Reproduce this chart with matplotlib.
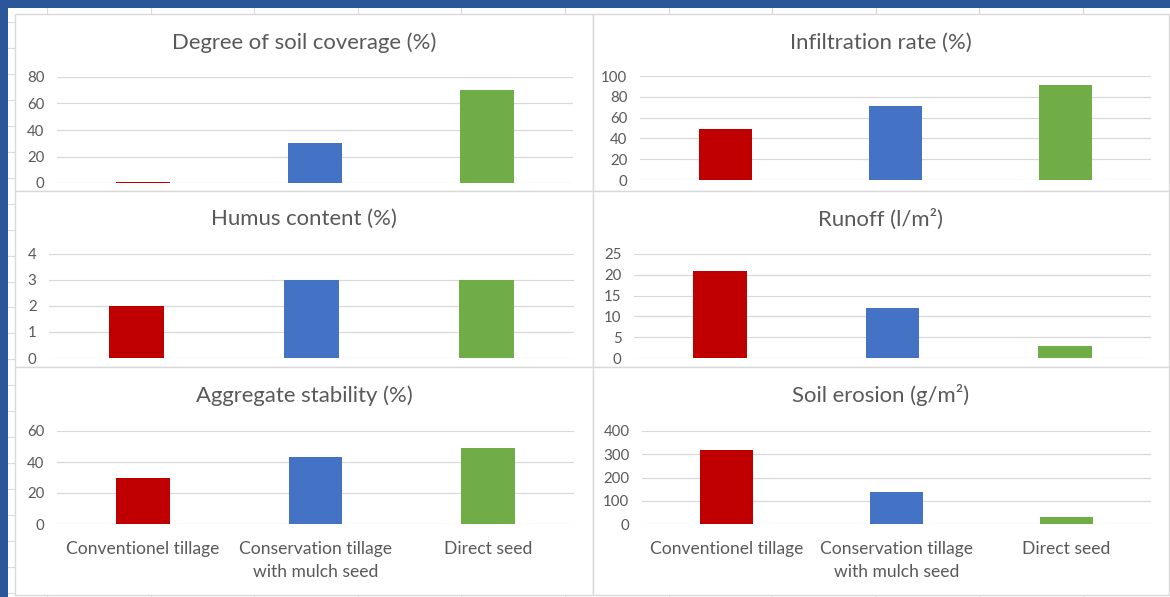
import numpy as np
import matplotlib
matplotlib.use("Agg")
import matplotlib.pyplot as plt
from matplotlib.patches import Rectangle

plt.rcParams["font.family"] = ["Lato", "DejaVu Sans"]

categories = ["Conventionel tillage", "Conservation tillage\nwith mulch seed", "Direct seed"]
bar_colors = ["#C00000", "#4472C4", "#70AD47"]

soil_coverage = [1, 30, 70]
infiltration = [49, 71, 91]
humus = [2, 3, 3]
runoff = [21, 12, 3]
aggregate = [30, 43, 49]
erosion = [318, 138, 32]

W, H = 1170, 597
TEXT = "#595959"
GRID = "#d9d9d9"

fig = plt.figure(figsize=(W / 100, H / 100), dpi=100)
fig.patch.set_facecolor("white")


def px_rect(x0, y0, x1, y1):
    return [x0 / W, 1 - y1 / H, (x1 - x0) / W, (y1 - y0) / H]


# worksheet backdrop: title-bar blue, cell grid, chart frames
bg = fig.add_axes([0, 0, 1, 1])
bg.set_xlim(0, W)
bg.set_ylim(H, 0)
bg.axis("off")
for x in np.arange(47, W, 103.6):
    bg.plot([x, x], [7.5, H], color="#dadada", lw=0.8, zorder=0)
for y in np.arange(22, H, 25.95):
    bg.plot([8, W], [y, y], color="#dadada", lw=0.8, zorder=0)
bg.add_patch(Rectangle((0, 0), W, 7.5, color="#2B579A", lw=0, zorder=1))
bg.add_patch(Rectangle((0, 0), 8, H, color="#2B579A", lw=0, zorder=1))

panels = [
    # frame box, plot box, title, values, ymax, ystep
    ((15, 14, 593, 190.5), (57, 77, 573, 183), "Degree of soil coverage (%)", soil_coverage, 80, 20),
    ((593, 14, 1169, 190.5), (640, 76, 1151, 180), "Infiltration rate (%)", infiltration, 100, 20),
    ((15, 190.5, 593, 367), (49, 254, 574, 358), "Humus content (%)", humus, 4, 1),
    ((593, 190.5, 1169, 367), (634, 254, 1151, 358), "Runoff (l/m²)", runoff, 25, 5),
    ((15, 367, 593, 595), (57, 431, 574, 524), "Aggregate stability (%)", aggregate, 60, 20),
    ((593, 367, 1169, 595), (642, 431, 1151, 524), "Soil erosion (g/m²)", erosion, 400, 100),
]

for frame, box, title, values, ymax, ystep in panels:
    fx0, fy0, fx1, fy1 = frame
    bg.add_patch(Rectangle((fx0, fy0), fx1 - fx0, fy1 - fy0,
                           facecolor="white", edgecolor=GRID, lw=1.0, zorder=2))
    fig.text((fx0 + fx1) / 2 / W, 1 - (fy0 + 28.5) / H, title,
             ha="center", va="center", fontsize=15.9, color=TEXT)

    ax = fig.add_axes(px_rect(*box))
    ax.patch.set_alpha(0)
    x = np.arange(len(categories))
    ax.bar(x, values, width=0.313, color=bar_colors, lw=0, zorder=3)
    ax.set_xlim(-0.5, len(categories) - 0.5)
    ax.set_ylim(0, ymax)
    ax.set_yticks(np.arange(0, ymax + ystep / 2, ystep))
    ax.yaxis.grid(True, color=GRID, lw=0.9)
    ax.set_axisbelow(True)
    for s in ax.spines.values():
        s.set_visible(False)
    ax.tick_params(axis="y", length=0, pad=9, labelsize=10.8, labelcolor=TEXT)
    ax.tick_params(axis="x", length=0, pad=12.5, labelsize=12.6, labelcolor=TEXT)
    ax.set_xticks(x)
    if fy1 > 500:
        ax.set_xticklabels(categories, linespacing=1.48, va="top")
    else:
        ax.set_xticklabels([])

fig.savefig("out.png", dpi=100)
